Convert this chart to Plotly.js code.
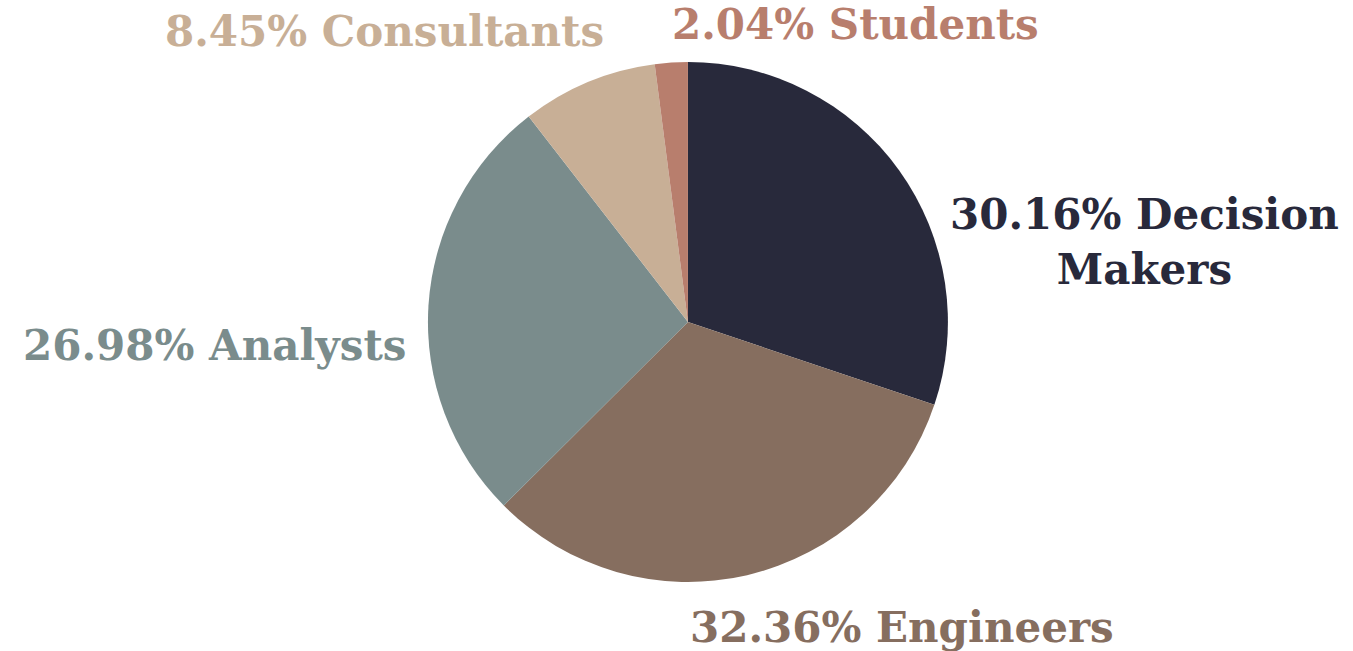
<!DOCTYPE html>
<html>
<head>
<meta charset="utf-8">
<script src="https://cdn.plot.ly/plotly-3.0.1.min.js"></script>
<style>html,body{margin:0;padding:0;background:#fff;}#chart{width:1353px;height:651px;}</style>
</head>
<body>
<div id="chart"></div>
<script>
const categories = ["Decision Makers", "Engineers", "Analysts", "Consultants", "Students"];
const displayLabels = ["Decision<br>Makers", "Engineers", "Analysts", "Consultants", "Students"];
const shares = [30.16, 32.36, 26.98, 8.45, 2.04];
const colors = ["#28293b", "#866e5f", "#7a8c8c", "#c8af96", "#b87e6d"];

const W = 1353, H = 651;
const total = shares.reduce((a, b) => a + b, 0);

// label placement (pixel anchors in the page) — layout only
const labelPlacement = [
  {x: 948, y: 242, xanchor: "left"},
  {x: 688, y: 627, xanchor: "left"},
  {x: 408, y: 345, xanchor: "right"},
  {x: 606, y: 32, xanchor: "right"},
  {x: 670, y: 25, xanchor: "left"}
];

const annotations = categories.map((c, i) => ({
  xref: "paper", yref: "paper",
  x: labelPlacement[i].x / W,
  y: 1 - labelPlacement[i].y / H,
  xanchor: labelPlacement[i].xanchor,
  yanchor: "middle",
  align: "center",
  showarrow: false,
  text: (shares[i] / total * 100).toFixed(2) + "% " + displayLabels[i],
  font: {family: "DejaVu Serif, serif", size: 42, color: colors[i], weight: "bold"}
}));

const trace = {
  type: "pie",
  labels: categories,
  values: shares,
  sort: false,
  direction: "clockwise",
  rotation: 0,
  marker: {colors: colors, line: {width: 0}},
  textinfo: "none",
  hoverinfo: "label+percent",
  automargin: false,
  domain: {x: [0.3163, 0.7006], y: [0.106, 0.9048]},
  showlegend: false
};

const layout = {
  width: W,
  height: H,
  margin: {l: 0, r: 0, t: 0, b: 0},
  paper_bgcolor: "#ffffff",
  showlegend: false,
  font: {family: "DejaVu Serif, serif"},
  annotations: annotations
};

Plotly.newPlot("chart", [trace], layout, {displayModeBar: false});
</script>
</body>
</html>
